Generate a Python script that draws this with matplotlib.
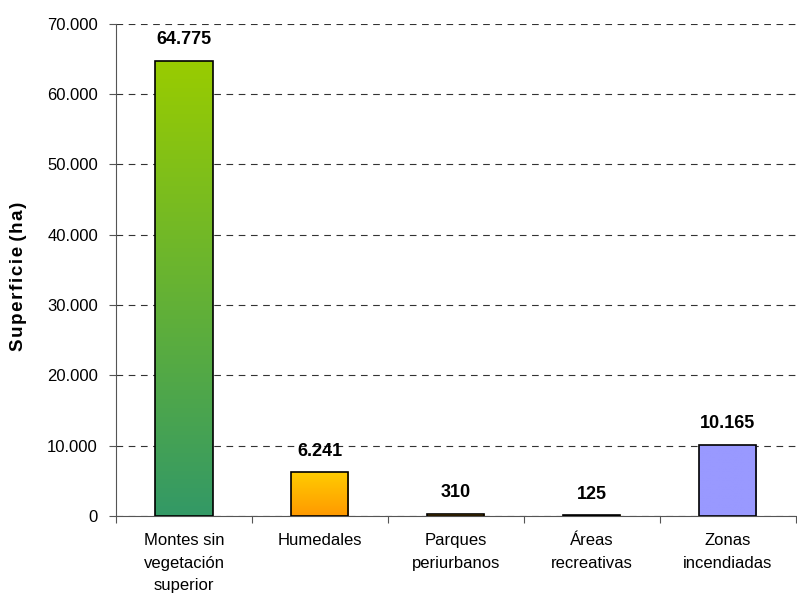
import numpy as np
import matplotlib
matplotlib.use("Agg")
from matplotlib import pyplot as plt
from matplotlib.colors import LinearSegmentedColormap

categories = ["Montes sin\nvegetación\nsuperior", "Humedales", "Parques\nperiurbanos",
              "Áreas\nrecreativas", "Zonas\nincendiadas"]
values = [64775, 6241, 310, 125, 10165]
labels = ["64.775", "6.241", "310", "125", "10.165"]
yticks = [0, 10000, 20000, 30000, 40000, 50000, 60000, 70000]
ytick_labels = ["0", "10.000", "20.000", "30.000", "40.000", "50.000", "60.000", "70.000"]
ylabel = "Superficie (ha)"

# bottom colour, top colour for each bar
bar_colors = [("#339966", "#99CC00"), ("#FF9900", "#FFCC00"), ("#FF9900", "#FFCC00"),
              ("#FF9900", "#FFCC00"), ("#9999FF", "#9999FF")]

plt.rcParams['font.family'] = ['Liberation Sans', 'DejaVu Sans']

fig = plt.figure(figsize=(7.97, 5.96), dpi=100)
ax = fig.add_axes([0.1455, 0.134, 0.853, 0.826])

x = np.arange(len(categories))
width = 0.42
ax.set_xlim(-0.5, len(categories) - 0.5)
ax.set_ylim(0, 70000)

grad = np.linspace(0, 1, 256).reshape(-1, 1)
for xi, v, (c0, c1) in zip(x, values, bar_colors):
    bar = ax.bar(xi, v, width=width, color="none", edgecolor="black", linewidth=1.2, zorder=3)[0]
    cmap = LinearSegmentedColormap.from_list("g", [c0, c1])
    im = ax.imshow(grad, cmap=cmap, aspect="auto", origin="lower",
                   extent=[xi - width / 2, xi + width / 2, 0, v], zorder=2)
    im.set_clip_path(bar)

for xi, v, lab in zip(x, values, labels):
    ax.annotate(lab, (xi, v), xytext=(0, 9), textcoords="offset points",
                ha="center", va="bottom", fontsize=13, fontweight="bold")

ax.set_yticks(yticks)
ax.set_yticklabels(ytick_labels, fontsize=12)
ax.yaxis.grid(True, linestyle=(0, (6, 5)), color="#333333", linewidth=0.8, zorder=1)
ax.set_axisbelow(True)

ax.set_xticks(np.arange(len(categories) + 1) - 0.5, minor=False)
ax.set_xticklabels([])
ax.tick_params(axis="x", length=5, color="#555555")
ax.set_xticks(x, minor=True)
ax.set_xticklabels(categories, minor=True, fontsize=12, linespacing=1.65)
ax.tick_params(axis="x", which="minor", length=0, pad=12)
ax.tick_params(axis="y", length=5, color="#555555", pad=8)

# slightly spaced-out letters like the original
spaced = "\u200a".join(ylabel.replace(" ", ""))
spaced = spaced.replace("e\u200a(", "e (")
fig.text(19 / 797, 1 - 276 / 596, spaced, rotation=90, ha="center", va="center",
         fontsize=13.5, fontweight="bold")

for s in ["top", "right"]:
    ax.spines[s].set_visible(False)
ax.spines["left"].set_color("#555555")
ax.spines["bottom"].set_color("#555555")

fig.savefig("out.png", dpi=100)
